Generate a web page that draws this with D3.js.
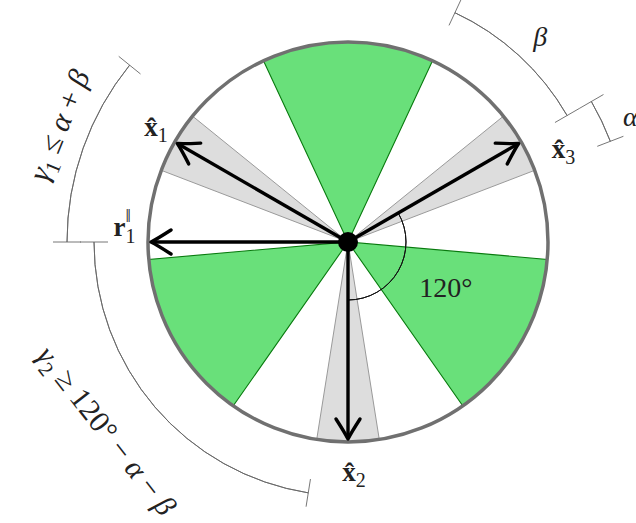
<!DOCTYPE html>
<html>
<head>
<meta charset="utf-8">
<script src="https://cdn.jsdelivr.net/npm/d3@7"></script>
<style>
  body { margin: 0; background: #fff; }
  text { font-family: "Liberation Serif", "Times New Roman", "DejaVu Serif", serif; fill: #222; }
</style>
</head>
<body>
<svg id="chart" width="636" height="523"></svg>
<script>
// angles in degrees, counter-clockwise from the +x axis
var vectorNames = ["x1", "x2", "x3"];
var vectorAngles = [150, 270, 30];
var refAngle = 180;              // r1 parallel
var greenCenters = [90, 210, 330];
var greenHalfWidth = 25;
var alpha = 9;                   // half width of grey wedges
var beta = 35;
// brackets: [start angle, end angle, radius factor]
var bracketStart = [30, 21, 141, 180];
var bracketEnd = [65, 30, 180, 261];
var bracketRadius = [1.265, 1.405, 1.405, 1.27];

var width = 636, height = 523,
    cx = 348, cy = 242, R = 200;

var svg = d3.select("#chart");
var g = svg.append("g").attr("transform", "translate(" + cx + "," + cy + ")");

// radius scale (unit circle -> pixels), angle scale (math degrees -> d3.arc radians)
var r = d3.scaleLinear().domain([0, 1]).range([0, R]);
var ang = d3.scaleLinear().domain([0, 360]).range([Math.PI / 2, Math.PI / 2 - 2 * Math.PI]);

function px(deg, rr) { return r(rr) * Math.cos(deg * Math.PI / 180); }
function py(deg, rr) { return -r(rr) * Math.sin(deg * Math.PI / 180); }

var arc = d3.arc();

// green sectors
g.selectAll(".green").data(greenCenters).enter().append("path")
    .attr("class", "green")
    .attr("d", function(d) {
      return arc({innerRadius: 0, outerRadius: r(1),
                  startAngle: ang(d + greenHalfWidth), endAngle: ang(d - greenHalfWidth)});
    })
    .style("fill", "#69e07a")
    .style("stroke", "#087a0e")
    .style("stroke-width", 1.1);

// grey wedges around each vector
g.selectAll(".grey").data(vectorAngles).enter().append("path")
    .attr("class", "grey")
    .attr("d", function(d) {
      return arc({innerRadius: 0, outerRadius: r(1),
                  startAngle: ang(d + alpha), endAngle: ang(d - alpha)});
    })
    .style("fill", "#dddddd")
    .style("stroke", "#9a9a9a")
    .style("stroke-width", 1);

// circle
g.append("circle")
    .attr("r", r(1))
    .style("fill", "none")
    .style("stroke", "#707070")
    .style("stroke-width", 3.5);

// 120 degree angle marker
g.append("path")
    .attr("d", arc({innerRadius: r(0.29), outerRadius: r(0.29),
                    startAngle: ang(30), endAngle: ang(-90)}))
    .style("fill", "none")
    .style("stroke", "#111")
    .style("stroke-width", 1);

g.append("text")
    .attr("x", px(-25, 0.54))
    .attr("y", py(-25, 0.54))
    .attr("text-anchor", "middle")
    .attr("dy", "0.35em")
    .style("font-size", "28px")
    .text("120°");

// brackets
bracketStart.forEach(function(a0, i) {
  var a1 = bracketEnd[i], rr = bracketRadius[i];
  g.append("path")
      .attr("d", arc({innerRadius: r(rr), outerRadius: r(rr),
                      startAngle: ang(a0), endAngle: ang(a1)}))
      .style("fill", "none")
      .style("stroke", "#666")
      .style("stroke-width", 0.9);
  [a0, a1].forEach(function(a) {
    g.append("line")
        .attr("x1", px(a, rr - 0.07)).attr("y1", py(a, rr - 0.07))
        .attr("x2", px(a, rr + 0.07)).attr("y2", py(a, rr + 0.07))
        .style("stroke", "#666")
        .style("stroke-width", 0.9);
  });
});

// arrows
var arrowAngles = vectorAngles.concat([refAngle]);
g.selectAll(".arrow").data(arrowAngles).enter().append("line")
    .attr("class", "arrow")
    .attr("x1", 0).attr("y1", 0)
    .attr("x2", function(d) { return px(d, 0.985); })
    .attr("y2", function(d) { return py(d, 0.985); })
    .style("stroke", "#000")
    .style("stroke-width", 3.4);

g.selectAll(".head").data(arrowAngles).enter().append("path")
    .attr("class", "head")
    .attr("transform", function(d) {
      return "translate(" + px(d, 0.985) + "," + py(d, 0.985) + ") rotate(" + (-d) + ")";
    })
    .attr("d", "M-20,-12 Q-6,-3 0,0 Q-6,3 -20,12")
    .style("fill", "none")
    .style("stroke", "#000")
    .style("stroke-width", 3.4)
    .style("stroke-linecap", "round")
    .style("stroke-linejoin", "round");

g.append("circle").attr("r", 10).style("fill", "#000");

// vector labels
var labelPos = [[149, 1.12], [271.5, 1.15], [23.5, 1.175]];
vectorAngles.forEach(function(a, i) {
  var t = g.append("text")
      .attr("x", px(labelPos[i][0], labelPos[i][1]))
      .attr("y", py(labelPos[i][0], labelPos[i][1]))
      .attr("text-anchor", "middle")
      .attr("dy", "0.35em")
      .style("font-size", "27px");
  t.append("tspan").style("font-weight", "bold").text("x\u0302");
  t.append("tspan").attr("dy", "6").style("font-size", "20px").text(vectorNames[i].slice(1));
});

var rt = g.append("text")
    .attr("x", px(176, 1.12))
    .attr("y", py(176, 1.12))
    .attr("text-anchor", "middle")
    .attr("dy", "0.35em")
    .style("font-size", "27px");
rt.append("tspan").style("font-weight", "bold").text("r");
rt.append("tspan").attr("dy", "7").style("font-size", "20px").text("1");
rt.append("tspan").attr("dx", "-10").attr("dy", "-21").style("font-size", "19px").text("\u2016");

// bracket labels
g.append("text")
    .attr("x", px(47, 1.41)).attr("y", py(47, 1.41))
    .attr("text-anchor", "middle").attr("dy", "0.35em")
    .style("font-size", "28px").style("font-style", "italic")
    .text("β");

g.append("text")
    .attr("x", px(24, 1.545)).attr("y", py(24, 1.545))
    .attr("text-anchor", "middle").attr("dy", "0.35em")
    .style("font-size", "28px").style("font-style", "italic")
    .text("α");

function bent(deg, rr, rot, parts) {
  var t = g.append("text")
      .attr("transform", "translate(" + px(deg, rr) + "," + py(deg, rr) + ") rotate(" + rot + ")")
      .attr("text-anchor", "middle")
      .attr("dy", "0.35em")
      .style("font-size", "30px");
  parts.forEach(function(p) {
    var s = t.append("tspan").text(p[0]);
    if (p[1]) s.style("font-style", "italic");
    if (p[2]) s.attr("dy", p[2]).style("font-size", "21px");
    if (p[3]) s.attr("dy", p[3]);
  });
}

bent(158, 1.56, 90 - 158, [["γ", 1], ["1", 0, 7], [" ≤ ", 0, 0, -7], ["α", 1], [" + ", 0], ["β", 1]]);
bent(218, 1.53, 270 - 218, [["γ", 1], ["2", 0, 7], [" ≥ 120° − ", 0, 0, -7], ["α", 1], [" − ", 0], ["β", 1]]);
</script>
</body>
</html>
